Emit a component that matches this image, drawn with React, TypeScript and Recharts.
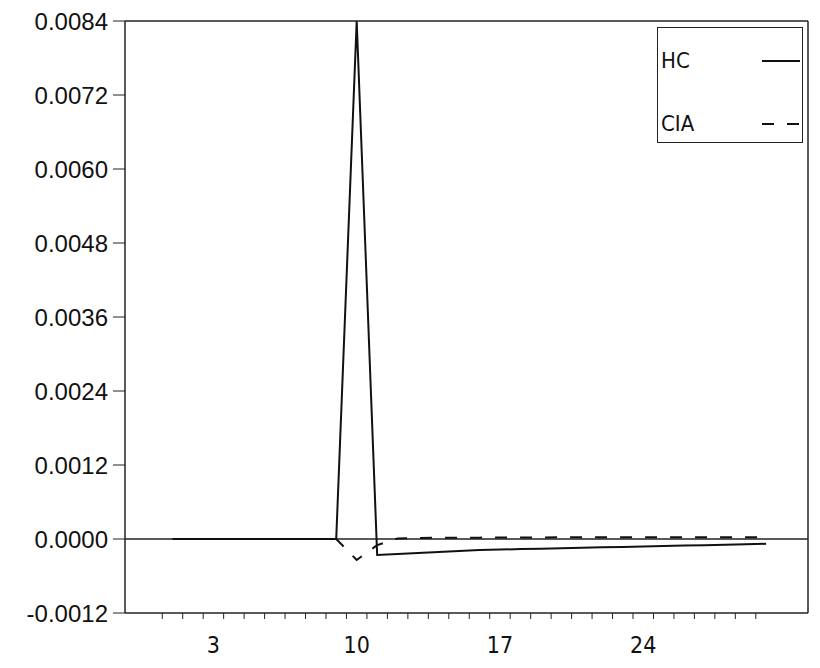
import {
  LineChart,
  Line,
  XAxis,
  YAxis,
  ReferenceLine,
  Legend,
} from 'recharts'

const xValues = [1, 2, 3, 4, 5, 6, 7, 8, 9, 10, 11, 12, 13, 14, 15, 16, 17, 18, 19, 20, 21, 22, 23, 24, 25, 26, 27, 28, 29, 30]
const hcValues = [
  0, 0, 0, 0, 0, 0, 0, 0, 0, 0.0084, -0.00026, -0.000245, -0.000228, -0.000212, -0.000196,
  -0.00018, -0.000172, -0.000164, -0.000157, -0.00015, -0.000142, -0.000135, -0.000128,
  -0.000121, -0.000114, -0.000107, -0.0001, -0.000093, -0.000086, -0.000078,
]
const ciaValues = [
  0, 0, 0, 0, 0, 0, 0, 0, 0, -0.00034, -0.0001, 0.00001, 0.000015, 0.00002, 0.00002,
  0.000022, 0.000025, 0.000025, 0.000026, 0.000027, 0.000028, 0.000028, 0.00003, 0.00003,
  0.00003, 0.00003, 0.00003, 0.00003, 0.00003, 0.00003,
]
const yTicks = [-0.0012, 0, 0.0012, 0.0024, 0.0036, 0.0048, 0.006, 0.0072, 0.0084]
// minor tick marks sit between the periods
const xMinorTicks = [
  0.5, 1.5, 2.5, 3.5, 4.5, 5.5, 6.5, 7.5, 8.5, 9.5, 10.5, 11.5, 12.5, 13.5, 14.5, 15.5, 16.5,
  17.5, 18.5, 19.5, 20.5, 21.5, 22.5, 23.5, 24.5, 25.5, 26.5, 27.5, 28.5, 29.5,
]
const xLabels = [3, 10, 17, 24]
const xDomain = [-1.32, 32.05]

const labelFont = "'Liberation Sans', Arial, sans-serif"
const narrowFont = "'Liberation Sans Narrow', 'DejaVu Sans Condensed', sans-serif"

const data = xValues.map((x, i) => ({ x, hc: hcValues[i], cia: ciaValues[i] }))

function XLabel({ x, y, payload }: any) {
  return (
    <text x={x} y={y + 31} textAnchor="middle" fontSize={23} fontFamily={narrowFont} fill="#111">
      {payload.value}
    </text>
  )
}

function LegendBox() {
  return (
    <div
      style={{
        width: 144,
        height: 114,
        border: '1.5px solid #222',
        background: '#fff',
        fontFamily: narrowFont,
        fontSize: 22,
        color: '#111',
        position: 'relative',
        textAlign: 'left',
      }}
    >
      <div style={{ position: 'absolute', left: 3, top: 20 }}>HC</div>
      <div style={{ position: 'absolute', left: 3, top: 83 }}>CIA</div>
      <svg width={144} height={114} style={{ position: 'absolute', left: 0, top: 0 }}>
        <line x1={104} x2={142} y1={33} y2={33} stroke="#111" strokeWidth={2} />
        <line x1={104} x2={142} y1={96} y2={96} stroke="#111" strokeWidth={2} strokeDasharray="12 13" />
      </svg>
    </div>
  )
}

export default function App() {
  return (
    <div style={{ position: 'absolute', left: 0, top: 0, background: '#fff' }}>
      <LineChart width={820} height={668} data={data} margin={{ top: 20, right: 11, bottom: 0, left: 0 }}>
        <XAxis
          dataKey="x"
          type="number"
          domain={xDomain}
          ticks={xMinorTicks}
          interval={0}
          tick={() => <g />}
          tickSize={6}
          tickLine={{ stroke: '#222' }}
          axisLine={{ stroke: '#222', strokeWidth: 1.5 }}
          height={1}
        />
        <XAxis
          xAxisId="labels"
          dataKey="x"
          type="number"
          domain={xDomain}
          ticks={xLabels}
          interval={0}
          tick={<XLabel />}
          tickLine={false}
          axisLine={false}
          height={54}
        />
        <XAxis xAxisId="top" orientation="top" dataKey="x" type="number" domain={xDomain} tick={false} tickLine={false} axisLine={{ stroke: '#222', strokeWidth: 1.5 }} height={1} />
        <YAxis
          type="number"
          domain={[-0.0012, 0.0084]}
          ticks={yTicks}
          interval={0}
          allowDataOverflow
          width={125}
          tickSize={12}
          tickMargin={5}
          tickFormatter={(v: number) => v.toFixed(4)}
          tick={{ fontSize: 24, fontFamily: labelFont, fill: '#111' }}
          tickLine={{ stroke: '#222' }}
          axisLine={{ stroke: '#222', strokeWidth: 1.5 }}
        />
        <YAxis yAxisId="right" orientation="right" domain={[-0.0012, 0.0084]} tick={false} tickLine={false} axisLine={{ stroke: '#222', strokeWidth: 1.5 }} width={1} />
        <ReferenceLine y={0} stroke="#222" strokeWidth={1.5} />
        <Legend
          layout="vertical"
          align="center"
          verticalAlign="middle"
          content={<LegendBox />}
          wrapperStyle={{ position: 'absolute', left: 657, top: 27, width: 146, height: 116 }}
        />
        <Line type="linear" dataKey="hc" name="HC" stroke="#111" strokeWidth={2} dot={false} isAnimationActive={false} />
        <Line type="linear" dataKey="cia" name="CIA" stroke="#111" strokeWidth={2} strokeDasharray="12 13" strokeDashoffset={12.7} dot={false} isAnimationActive={false} />
      </LineChart>
    </div>
  )
}
